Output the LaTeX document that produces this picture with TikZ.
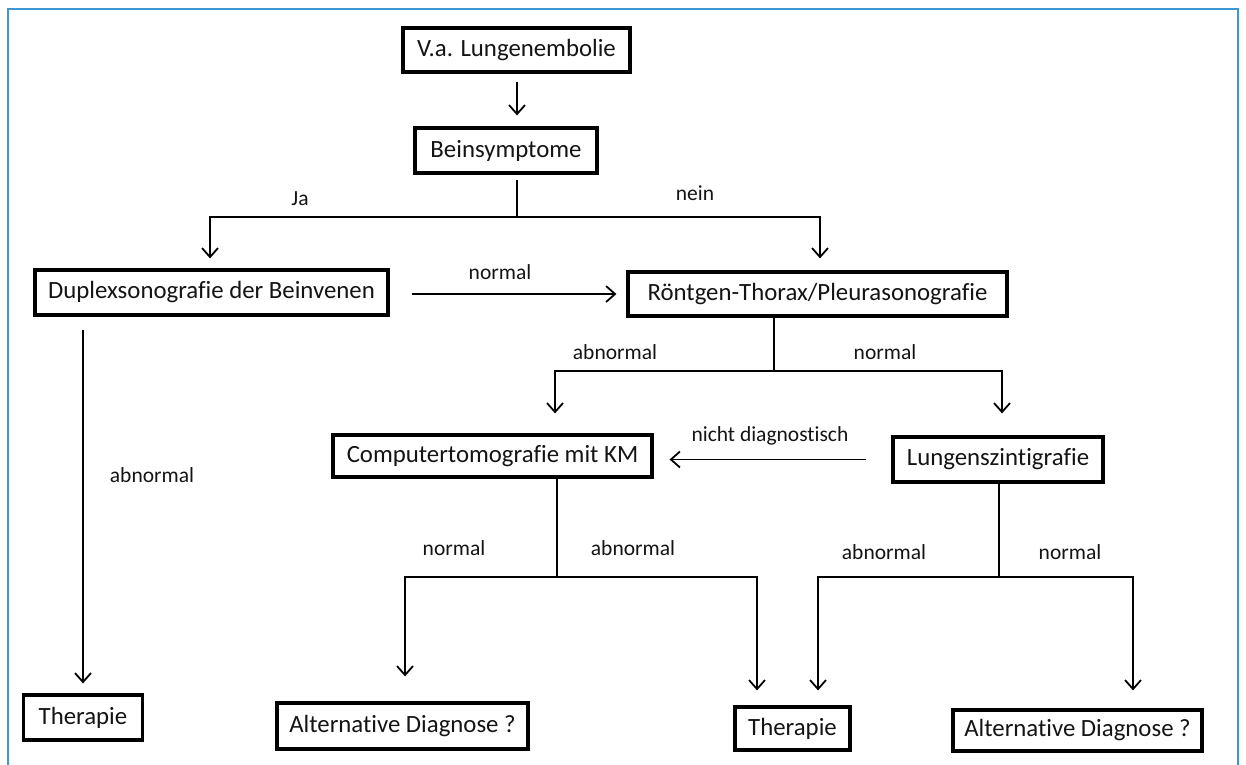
\documentclass[tikz,border=0pt]{standalone}
\usepackage{fontspec}
\setmainfont{Carlito}[Ligatures=NoCommon]
\usetikzlibrary{arrows.meta}
\definecolor{frameblue}{RGB}{62,150,210}
\definecolor{ink}{RGB}{20,20,20}
\begin{document}
\begin{tikzpicture}[x=1pt,y=-1pt,
  box/.style={draw=black, line width=3.2pt, inner sep=0pt, text=ink, font=\fontsize{24.8}{28}\selectfont},
  lbl/.style={font=\fontsize{21.5}{25}\selectfont, text=ink, inner sep=0pt},
  line/.style={draw=black, line width=1.8pt},
  arr/.style={line, -{Straight Barb[length=9pt,width=16pt,line width=1.8pt]}}
]
\useasboundingbox (0,0) rectangle (1246,764);
\fill[white] (0,0) rectangle (1246,764);
\draw[frameblue, line width=2.4pt] (8,766) -- (8,9) -- (1238,9) -- (1238,766);

% boxes
\node[box, minimum width=227pt, minimum height=44pt] (vaL) at (516.5,50) {V.a. Lungenembolie};
\node[box, minimum width=182pt, minimum height=45pt] (bein) at (506,150.5) {Beinsymptome};
\node[box, minimum width=353pt, minimum height=45pt] (duplex) at (211.5,292.5) {Duplexsonografie der Beinvenen};
\node[box, minimum width=379pt, minimum height=44pt] (roent) at (817.5,294) {Röntgen-Thorax/Pleurasonografie};
\node[box, minimum width=319pt, minimum height=42pt] (ct) at (492.5,456) {Computertomografie mit KM};
\node[box, minimum width=210pt, minimum height=45pt] (lungs) at (998,459.5) {Lungenszintigrafie};
\node[box, minimum width=119pt, minimum height=45pt] (therL) at (83,717.5) {Therapie};
\node[box, minimum width=251pt, minimum height=46pt] (altM) at (402.5,726) {Alternative Diagnose ?};
\node[box, minimum width=115pt, minimum height=43pt] (therM) at (792.5,728.5) {Therapie};
\node[box, minimum width=249pt, minimum height=41pt] (altR) at (1077.5,730.5) {Alternative Diagnose ?};

% junction coordinates
\coordinate (j1) at (517,217);
\coordinate (jL) at (210,217);
\coordinate (jR) at (820,217);
\coordinate (j2) at (774,371);
\coordinate (jCT) at (555,371);
\coordinate (jLS) at (1002,371);
\coordinate (j3) at (557,577);
\coordinate (jA) at (405,577);
\coordinate (jB) at (757,577);
\coordinate (j4) at (999,577);
\coordinate (jC) at (818,577);
\coordinate (jD) at (1133,577);

% connectors
\draw[arr, shorten <=8pt, shorten >=11pt] (j1 |- vaL.south) -- (j1 |- bein.north);
\draw[line, shorten <=5pt] (j1 |- bein.south) -- (j1);
\draw[arr, shorten >=10pt] (j1) -| (jL |- duplex.north);
\draw[arr, shorten >=12pt] (j1) -| (jR |- roent.north);
\draw[arr, shorten <=22pt, shorten >=10pt] (duplex.east |- roent.west) -- (roent.west);
\draw[arr, shorten <=13pt, shorten >=10pt] (therL.north |- duplex.south) -- (therL.north);

\draw[line] (j2 |- roent.south) -- (j2);
\draw[arr, shorten >=20pt] (j2) -| (jCT |- ct.north);
\draw[arr, shorten >=22pt] (j2) -| (jLS |- lungs.north);
\draw[arr, shorten <=25pt, shorten >=16pt] (lungs.west) -- (lungs.west -| ct.east);

\draw[line] (j3 |- ct.south) -- (j3);
\draw[arr, shorten >=25pt] (j3) -| (jA |- altM.north);
\draw[arr, shorten >=15pt] (j3) -| (jB |- therM.north);

\draw[line] (j4 |- lungs.south) -- (j4);
\draw[arr, shorten >=15pt] (j4) -| (jC |- therM.north);
\draw[arr, shorten >=18pt] (j4) -| (jD |- altR.north);

% labels
\node[lbl] (lJa) at (300,199) {Ja};
\node[lbl] (lNein) at (695,193) {nein};
\node[lbl] (lN1) at (500,272) {normal};
\node[lbl] (lA1) at (152,475) {abnormal};
\node[lbl] (lA2) at (615,352) {abnormal};
\node[lbl] (lN2) at (885,352) {normal};
\node[lbl] (lND) at (770,436) {nicht diagnostisch};
\node[lbl] (lN3) at (454,548) {normal};
\node[lbl] (lA3) at (633,548) {abnormal};
\node[lbl] (lA4) at (884,552) {abnormal};
\node[lbl] (lN4) at (1070,552) {normal};
\end{tikzpicture}
\end{document}
